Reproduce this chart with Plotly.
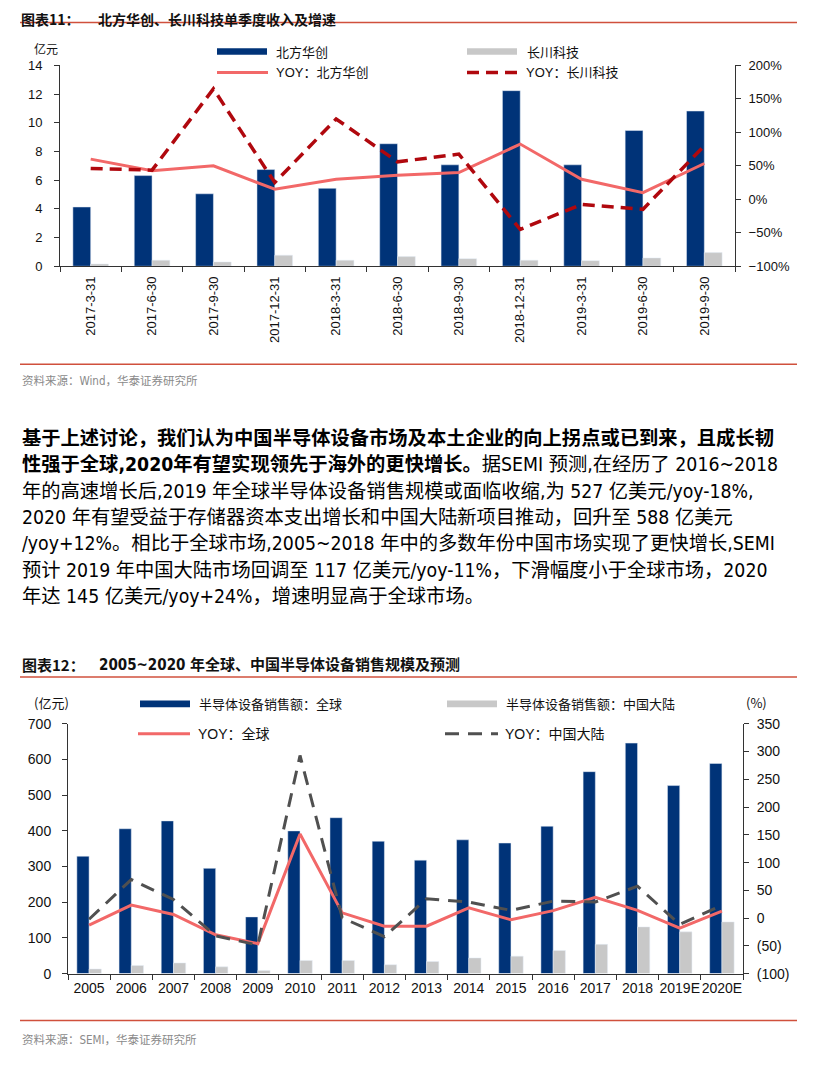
import plotly.graph_objects as go

W, H = 818, 1077

# ---------------- Chart 1 data ----------------
quarters = ["2017-3-31", "2017-6-30", "2017-9-30", "2017-12-31", "2018-3-31", "2018-6-30",
            "2018-9-30", "2018-12-31", "2019-3-31", "2019-6-30", "2019-9-30"]
naura_rev = [4.13, 6.32, 5.05, 6.74, 5.43, 8.54, 7.07, 12.24, 7.07, 9.46, 10.82]
changchuan_rev = [0.16, 0.42, 0.30, 0.77, 0.42, 0.67, 0.53, 0.42, 0.39, 0.58, 0.95]
naura_yoy = [60, 42.5, 50, 15, 30, 36, 40, 82.5, 30, 10, 53.5]
changchuan_yoy = [46, 43.5, 165, 25, 120, 56, 67.5, -45, -7.5, -15, 80]

# ---------------- Chart 2 data ----------------
years = ["2005", "2006", "2007", "2008", "2009", "2010", "2011", "2012", "2013", "2014",
         "2015", "2016", "2017", "2018", "2019E", "2020E"]
global_sales = [329, 406, 428, 295, 159, 400, 437, 371, 318, 375, 366, 413, 566, 646, 527, 589]
china_sales = [13, 23, 30, 19, 9, 37, 37, 25, 34, 44, 49, 65, 82, 131, 117, 145]
global_yoy = [-12.5, 23.5, 6.5, -30, -46, 151.5, 9.5, -14.5, -14.5, 18.5, -3, 13.5, 37.5, 14, -18, 12.5]
china_yoy = [-2, 69.5, 33.5, -32, -48.5, 293, 0.5, -33.5, 35, 29, 14, 30.5, 29, 57.5, -11.5, 23]

right2_vals = [-100, -50, 0, 50, 100, 150, 200, 250, 300, 350]
right2_text = ["(100)", "(50)", "0", "50", "100", "150", "200", "250", "300", "350"]

NAVY = "#003378"
GRAY = "#C8C8C8"
RED = "#F26868"
DRED = "#B0080E"
DGRAY = "#505050"
SEP = "#D0503C"
AX = "#333333"
LAT = "Arial, Liberation Sans, sans-serif"
CJK = "Noto Sans CJK SC, sans-serif"
NARROW = "Liberation Sans Narrow, Arial Narrow, DejaVu Sans Condensed, Arial, Liberation Sans, Noto Sans CJK SC, sans-serif"
MIX = "Arial, Liberation Sans, Noto Sans CJK SC, sans-serif"

# the photographed page comes out slightly shrunk vertically; pre-scale y to compensate
K = 0.986
OY = (H - H * K) / 2


def px(x):
    return x / W


def py(y):
    return 1 - ((y - OY) / K) / H


fig = go.Figure()

# chart 1
fig.add_trace(go.Bar(x=quarters, y=naura_rev, marker_color=NAVY, xaxis="x", yaxis="y", name="北方华创"))
fig.add_trace(go.Bar(x=quarters, y=changchuan_rev, marker_color=GRAY, xaxis="x", yaxis="y", name="长川科技"))
fig.add_trace(go.Scatter(x=quarters, y=naura_yoy, mode="lines", line=dict(color=RED, width=3),
                         xaxis="x", yaxis="y2", name="YOY：北方华创"))
fig.add_trace(go.Scatter(x=quarters, y=changchuan_yoy, mode="lines",
                         line=dict(color=DRED, width=3.5, dash="12px,7px"),
                         xaxis="x", yaxis="y2", name="YOY：长川科技"))

# chart 2
fig.add_trace(go.Bar(x=years, y=global_sales, marker_color=NAVY, xaxis="x2", yaxis="y3",
                     name="半导体设备销售额：全球"))
fig.add_trace(go.Bar(x=years, y=china_sales, marker_color=GRAY, xaxis="x2", yaxis="y3",
                     name="半导体设备销售额：中国大陆"))
fig.add_trace(go.Scatter(x=years, y=global_yoy, mode="lines", line=dict(color=RED, width=3),
                         xaxis="x2", yaxis="y4", name="YOY：全球"))
fig.add_trace(go.Scatter(x=years, y=china_yoy, mode="lines",
                         line=dict(color=DGRAY, width=3, dash="14px,9px"),
                         xaxis="x2", yaxis="y4", name="YOY：中国大陆"))


def axis(size, **kw):
    d = dict(showgrid=False, zeroline=False, showline=True, linecolor=AX, linewidth=1,
             ticks="outside", ticklen=5, tickcolor=AX,
             tickfont=dict(family=LAT, color="#111", size=size))
    d.update(kw)
    return d


fig.update_layout(
    width=W, height=H, margin=dict(l=0, r=0, t=0, b=0), autosize=False,
    paper_bgcolor="white", plot_bgcolor="white", showlegend=False,
    barmode="group", bargap=0.42, bargroupgap=0,
    xaxis=axis(13, domain=[px(60), px(735)], anchor="y", type="category",
               tickangle=-90, tickson="boundaries", ticklabelstandoff=4),
    yaxis=axis(13, domain=[py(266), py(65)], anchor="x", range=[0, 14], dtick=2,
               ticklabelstandoff=9),
    yaxis2=axis(13, overlaying="y", side="right", anchor="x", range=[-100, 200],
                dtick=50, ticksuffix="%", ticklabelstandoff=5),
    xaxis2=axis(14, domain=[px(68), px(743)], anchor="y3", type="category",
                tickangle=0, tickson="boundaries", ticklabelstandoff=2),
    yaxis3=axis(14, domain=[py(974), py(724)], anchor="x2", range=[0, 700], dtick=100,
                ticklabelstandoff=8),
    yaxis4=axis(14, overlaying="y3", side="right", anchor="x2", range=[-100, 350],
                tickvals=right2_vals, ticktext=right2_text, ticklabelstandoff=5),
)

shapes = []
# separators
for y in [22, 364, 677, 1021]:
    shapes.append(dict(type="line", xref="paper", yref="paper", x0=px(20), x1=px(797),
                       y0=py(y), y1=py(y), line=dict(color=SEP, width=1.5)))


def rect(x0, x1, y, color):
    shapes.append(dict(type="rect", xref="paper", yref="paper", x0=px(x0), x1=px(x1),
                       y0=py(y + 3.3), y1=py(y - 3.3), fillcolor=color, line=dict(width=0)))


def lseg(x0, x1, y, color, width, dash="solid"):
    shapes.append(dict(type="line", xref="paper", yref="paper", x0=px(x0), x1=px(x1),
                       y0=py(y), y1=py(y), line=dict(color=color, width=width, dash=dash)))


# legend chart 1
rect(217, 267, 51, NAVY)
rect(467, 517, 51, GRAY)
lseg(217, 268, 72, RED, 3)
lseg(467, 518, 72, DRED, 3.5, "12px,7px")
# legend chart 2
rect(140, 190, 704, NAVY)
rect(447, 497, 704, GRAY)
lseg(138, 190, 734, RED, 3)
lseg(445, 498, 734, DGRAY, 3, "14px,9px")
fig.update_layout(shapes=shapes)

ann = []


def text(x, y, s, size, family=CJK, color="#111", anchor="left"):
    ann.append(dict(x=px(x), y=py(y), xref="paper", yref="paper", text=s, showarrow=False,
                    xanchor=anchor, yanchor="middle",
                    font=dict(family=family, size=size, color=color)))


def top_title(x, s, size):
    ann.append(dict(x=px(x), y=1, xref="paper", yref="paper", text=s, showarrow=False,
                    xanchor="left", yanchor="top", borderpad=0,
                    font=dict(family=CJK, size=size, color="#111")))


# titles
top_title(20, "<b>图表11：</b>", 14)
top_title(97, "<b>北方华创、长川科技单季度收入及增速</b>", 14)
text(20, 665, "<b>图表12：</b>", 15)
text(97, 665, "<b>2005~2020 年全球、中国半导体设备销售规模及预测</b>", 15, family=NARROW)

# chart 1 legend labels & unit
text(32, 48, "亿元", 12)
text(274, 51, "北方华创", 13)
text(525, 51, "长川科技", 13)
text(274, 72, "YOY：北方华创", 13, family=MIX)
text(524, 72, "YOY：长川科技", 13, family=MIX)

# chart 2 legend labels & units
text(32, 703, "(亿元)", 13)
text(744, 703, "(%)", 13)
text(197, 704, "半导体设备销售额：全球", 13)
text(504, 704, "半导体设备销售额：中国大陆", 13)
text(196, 734, "YOY：全球", 14, family=MIX)
text(503, 734, "YOY：中国大陆", 14, family=MIX)

# sources
text(20, 381, "资料来源：Wind，华泰证券研究所", 11.5, family=NARROW, color="#8a8a8a")
text(20, 1040, "资料来源：SEMI，华泰证券研究所", 11.5, family=NARROW, color="#8a8a8a")

# paragraph
para = [
    "<b>基于上述讨论，我们认为中国半导体设备市场及本土企业的向上拐点或已到来，且成长韧</b>",
    "<b>性强于全球,2020年有望实现领先于海外的更快增长。</b>据SEMI 预测,在经历了 2016~2018",
    "年的高速增长后,2019 年全球半导体设备销售规模或面临收缩,为 527 亿美元/yoy-18%,",
    "2020 年有望受益于存储器资本支出增长和中国大陆新项目推动，回升至 588 亿美元",
    "/yoy+12%。相比于全球市场,2005~2018 年中的多数年份中国市场实现了更快增长,SEMI",
    "预计 2019 年中国大陆市场回调至 117 亿美元/yoy-11%，下滑幅度小于全球市场，2020",
    "年达 145 亿美元/yoy+24%，增速明显高于全球市场。",
]
para_y = [438, 464.5, 491, 517.5, 544, 570.5, 597]
for s, y in zip(para, para_y):
    text(20, y, s, 19.3, family=NARROW, color="#000")

fig.update_layout(annotations=ann)

post = (
    "document.documentElement.style.margin='0';document.documentElement.style.padding='0';"
    "document.documentElement.style.overflow='hidden';"
    "document.body.style.margin='0';document.body.style.padding='0';document.body.style.overflow='hidden';"
    "var d=document.getElementsByClassName('plotly-graph-div')[0];"
    "d.style.position='fixed';d.style.left='0px';d.style.top='0px';"
)
fig.write_html("out.html", config={"displayModeBar": False, "staticPlot": True}, post_script=post)
